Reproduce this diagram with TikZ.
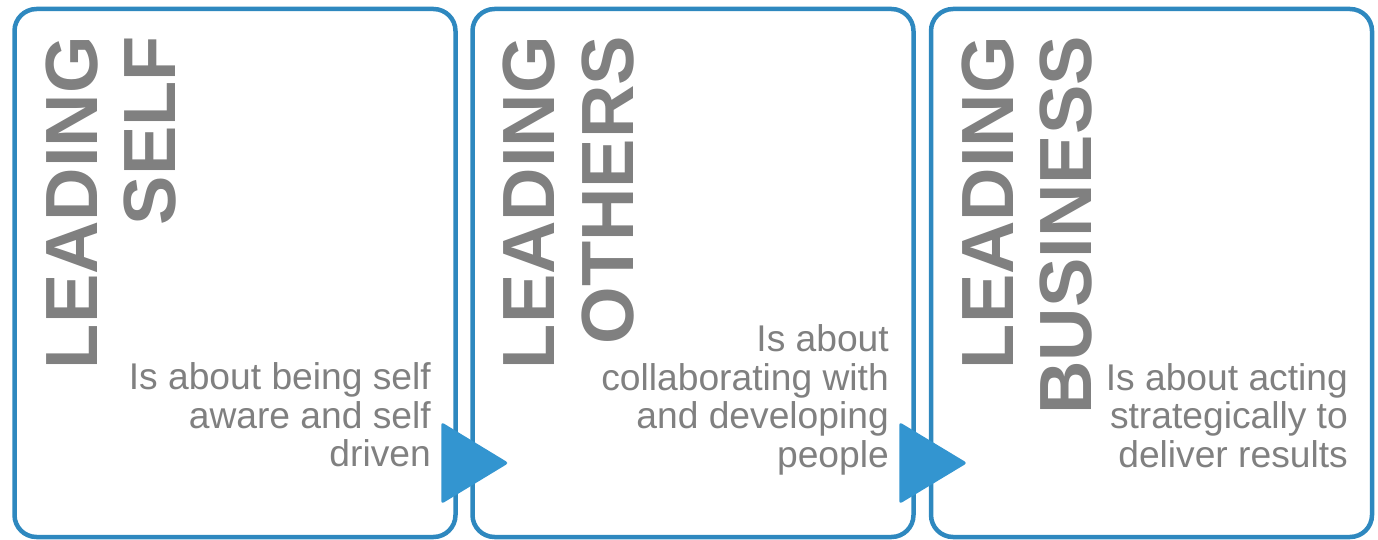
\documentclass[tikz,border=0pt]{standalone}
\usepackage{fontspec}
\setmainfont{Liberation Sans}
\usetikzlibrary{calc}
\definecolor{boxblue}{RGB}{46,136,191}
\definecolor{arrowblue}{RGB}{51,149,208}
\definecolor{txtgray}{RGB}{128,128,128}
\begin{document}
\begin{tikzpicture}[x=1pt,y=-1pt,
  panel/.style={draw=boxblue, line width=4.5pt, rounded corners=22pt,
    minimum width=441pt, minimum height=528pt, inner sep=0pt, fill=white},
  title/.style={rotate=90, anchor=base east, inner sep=0pt, text=txtgray,
    font=\fontsize{74}{79}\selectfont\bfseries},
  desc/.style={anchor=base east, inner sep=0pt, text=txtgray,
    font=\fontsize{37.2}{38.3}\selectfont},
  pointer/.style={fill=arrowblue, rounded corners=3pt}]
\useasboundingbox (0,0) rectangle (1378,540);

% three panels
\node[panel] (b1) at (235,273) {};
\node[panel] (b2) at (693,273) {};
\node[panel] (b3) at (1151.5,273) {};

% vertical headings
\node[title] (t1a) at (97,36) {LEADING};
\node[title] (t1b) at (175,36) {SELF};
\node[title] (t2a) at (554,36) {LEADING};
\node[title] (t2b) at (633,36) {OTHERS};
\node[title] (t3a) at (1013,36) {LEADING};
\node[title] (t3b) at (1091,36) {BUSINESS};

% descriptions
\node[desc] (d1) at (431,466.5) {\begin{tabular}[b]{@{}r@{}}Is about being self\\aware and self\\driven\end{tabular}};
\node[desc] (d2) at (889,467) {\begin{tabular}[b]{@{}r@{}}Is about\\collaborating with\\and developing\\people\end{tabular}};
\node[desc] (d3) at (1348,467) {\begin{tabular}[b]{@{}r@{}}Is about acting\\strategically to\\deliver results\end{tabular}};

% pointers between panels
\fill[pointer] ($(b1.east)+(-16.5,149)$) -- ($(b2.west)+(38.5,190)$) -- ($(b1.east)+(-16.5,231)$) -- cycle;
\fill[pointer] ($(b2.east)+(-16.5,149)$) -- ($(b3.west)+(38.5,190)$) -- ($(b2.east)+(-16.5,231)$) -- cycle;
\end{tikzpicture}
\end{document}
